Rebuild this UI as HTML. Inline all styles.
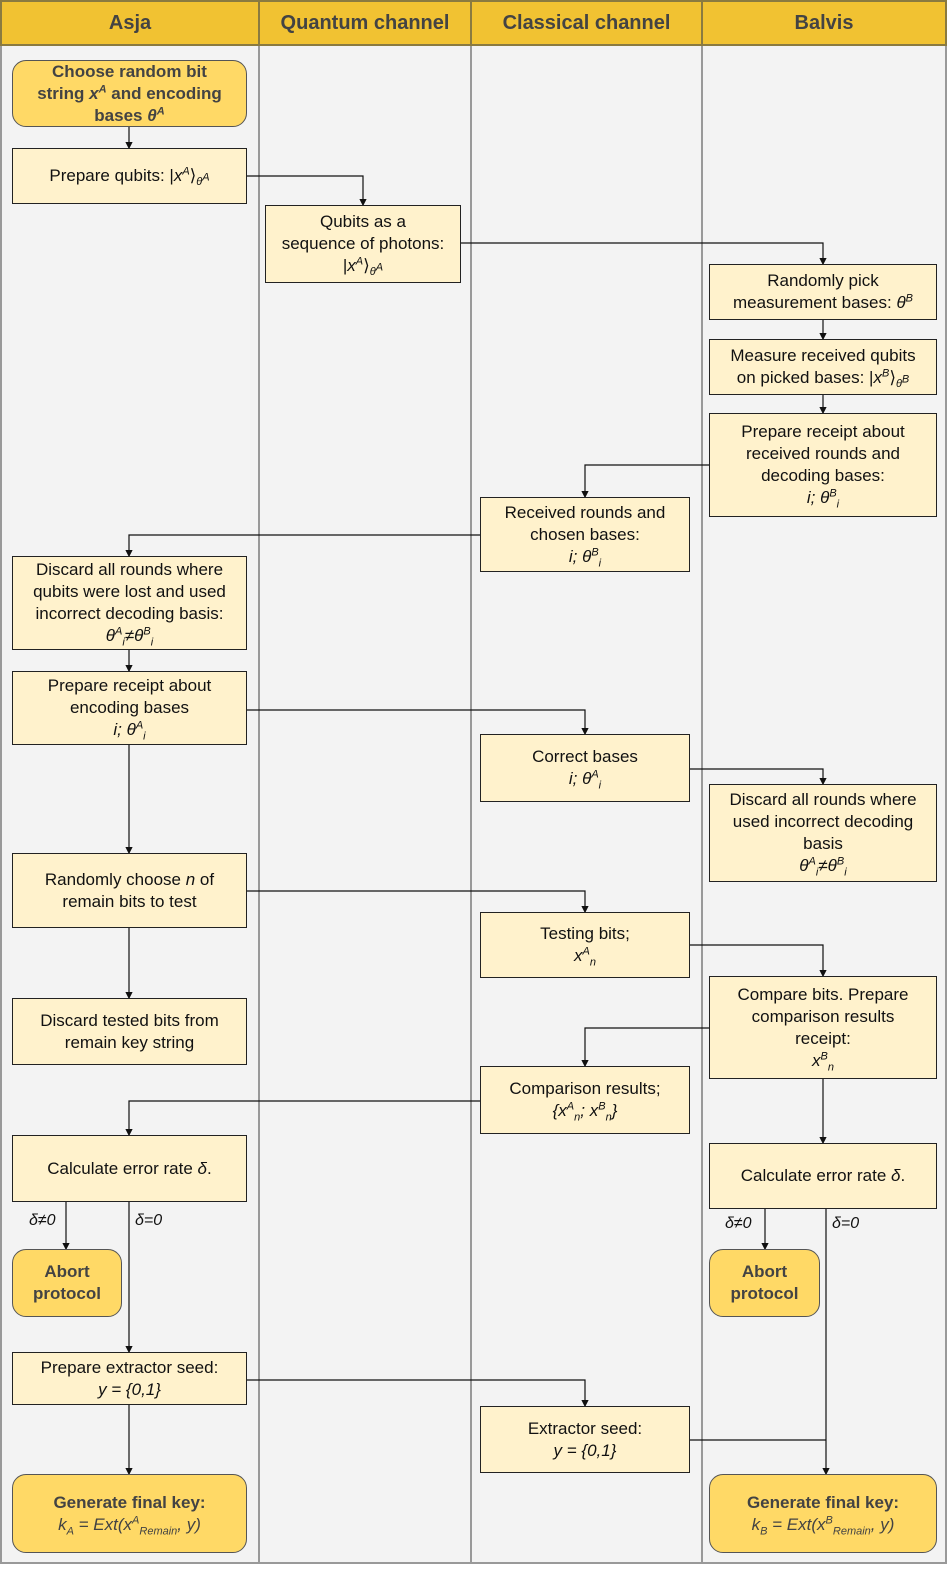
<!DOCTYPE html>
<html><head><meta charset="utf-8"><style>
body{margin:0;width:952px;height:1578px;background:#fff;font-family:"Liberation Sans",sans-serif;position:relative;overflow:hidden}
.col{position:absolute;top:0;height:1564px;background:#f3f3f3;border:2px solid #999;box-sizing:border-box}
.hd{position:absolute;top:0;height:46px;background:#f1c232;border:2px solid #8a7a40;box-sizing:border-box;font-weight:bold;font-size:20px;color:#434343;display:flex;align-items:center;justify-content:center}
.b{position:absolute;background:#fff2cc;border:1px solid #222;box-sizing:border-box;display:flex;align-items:center;justify-content:center;text-align:center;font-size:17px;line-height:22px;color:#111;padding:0 12px}
.r{background:#ffd966;border-radius:14px;font-weight:bold;color:#434343;border:1px solid #555}
i{font-style:italic}
sub,sup{font-size:11px;line-height:0}
svg{position:absolute;left:0;top:0}
.l{position:absolute;font-size:16px;font-style:italic;color:#111}
</style></head><body>
<div class="col" style="left:0;width:260px"></div>
<div class="col" style="left:258px;width:214px"></div>
<div class="col" style="left:470px;width:233px"></div>
<div class="col" style="left:701px;width:246px"></div>
<div class="hd" style="left:0;width:260px">Asja</div>
<div class="hd" style="left:258px;width:214px">Quantum channel</div>
<div class="hd" style="left:470px;width:233px">Classical channel</div>
<div class="hd" style="left:701px;width:246px">Balvis</div>

<svg width="952" height="1578"><defs><marker id="a" markerWidth="6" markerHeight="6" refX="5" refY="3" orient="auto"><path d="M0,0L6,3L0,6z" fill="#111"/></marker></defs>
<g stroke="#111" stroke-width="1.2" fill="none" marker-end="url(#a)">
<path d="M129,127V148"/><path d="M247,176H363V205"/><path d="M461,243H823V264"/>
<path d="M823,320V339"/><path d="M823,395V413"/><path d="M709,465H585V497"/>
<path d="M480,535H129V556"/><path d="M129,650V671"/><path d="M247,710H585V734"/>
<path d="M129,745V853"/><path d="M690,769H823V784"/><path d="M247,891H585V912"/>
<path d="M129,928V998"/><path d="M690,945H823V976"/><path d="M709,1028H585V1066"/>
<path d="M480,1101H129V1135"/><path d="M823,1079V1143"/><path d="M66,1202V1249"/>
<path d="M129,1202V1352"/><path d="M765,1209V1249"/><path d="M826,1209V1474"/>
<path d="M247,1380H585V1406"/><path d="M129,1405V1474"/></g>
<path d="M690,1440H826" stroke="#111" stroke-width="1.2"/></svg>

<div class="b r" style="left:12px;top:60px;width:235px;height:67px"><span>Choose random bit<br>string <i>x<sup>A</sup></i> and encoding<br>bases <i>θ<sup>A</sup></i></span></div>
<div class="b" style="left:12px;top:148px;width:235px;height:56px"><span>Prepare qubits: |<i>x<sup>A</sup></i>⟩<sub><i>θ<sup>A</sup></i></sub></span></div>
<div class="b" style="left:265px;top:205px;width:196px;height:78px"><span>Qubits as a<br>sequence of photons:<br>|<i>x<sup>A</sup></i>⟩<sub><i>θ<sup>A</sup></i></sub></span></div>
<div class="b" style="left:709px;top:264px;width:228px;height:56px;padding:0 20px"><span>Randomly pick measurement bases: <i>θ<sup>B</sup></i></span></div>
<div class="b" style="left:709px;top:339px;width:228px;height:56px"><span>Measure received qubits on picked bases: |<i>x<sup>B</sup></i>⟩<sub><i>θ<sup>B</sup></i></sub></span></div>
<div class="b" style="left:709px;top:413px;width:228px;height:104px"><span>Prepare receipt about received rounds and decoding bases:<br><i>i; θ<sup>B</sup><sub>i</sub></i></span></div>
<div class="b" style="left:480px;top:497px;width:210px;height:75px"><span>Received rounds and chosen bases:<br><i>i; θ<sup>B</sup><sub>i</sub></i></span></div>
<div class="b" style="left:12px;top:556px;width:235px;height:94px;padding:0 8px"><span>Discard all rounds where qubits were lost and used incorrect decoding basis:<br><i>θ<sup>A</sup><sub>i</sub>≠θ<sup>B</sup><sub>i</sub></i></span></div>
<div class="b" style="left:12px;top:671px;width:235px;height:74px"><span>Prepare receipt about encoding bases<br><i>i; θ<sup>A</sup><sub>i</sub></i></span></div>
<div class="b" style="left:480px;top:734px;width:210px;height:68px"><span>Correct bases<br><i>i; θ<sup>A</sup><sub>i</sub></i></span></div>
<div class="b" style="left:709px;top:784px;width:228px;height:98px"><span>Discard all rounds where used incorrect decoding basis<br><i>θ<sup>A</sup><sub>i</sub>≠θ<sup>B</sup><sub>i</sub></i></span></div>
<div class="b" style="left:12px;top:853px;width:235px;height:75px;padding:0 20px"><span>Randomly choose <i>n</i> of remain bits to test</span></div>
<div class="b" style="left:480px;top:912px;width:210px;height:66px"><span>Testing bits;<br><i>x<sup>A</sup><sub>n</sub></i></span></div>
<div class="b" style="left:12px;top:998px;width:235px;height:67px"><span>Discard tested bits from remain key string</span></div>
<div class="b" style="left:709px;top:976px;width:228px;height:103px;padding:0 18px"><span>Compare bits. Prepare comparison results receipt:<br><i>x<sup>B</sup><sub>n</sub></i></span></div>
<div class="b" style="left:480px;top:1066px;width:210px;height:68px"><span>Comparison results;<br><i>{x<sup>A</sup><sub>n</sub>; x<sup>B</sup><sub>n</sub>}</i></span></div>
<div class="b" style="left:12px;top:1135px;width:235px;height:67px"><span>Calculate error rate <i>δ</i>.</span></div>
<div class="b" style="left:709px;top:1143px;width:228px;height:66px"><span>Calculate error rate <i>δ</i>.</span></div>
<div class="b r" style="left:12px;top:1249px;width:110px;height:68px"><span>Abort protocol</span></div>
<div class="b r" style="left:709px;top:1249px;width:111px;height:68px"><span>Abort protocol</span></div>
<div class="b" style="left:12px;top:1352px;width:235px;height:53px"><span>Prepare extractor seed:<br><i>y = {0,1}</i></span></div>
<div class="b" style="left:480px;top:1406px;width:210px;height:67px"><span>Extractor seed:<br><i>y = {0,1}</i></span></div>
<div class="b r" style="left:12px;top:1474px;width:235px;height:79px"><span>Generate final key:<br><i style="font-weight:normal">k<sub>A</sub> = Ext(x<sup>A</sup><sub>Remain</sub>, y)</i></span></div>
<div class="b r" style="left:709px;top:1474px;width:228px;height:79px"><span>Generate final key:<br><i style="font-weight:normal">k<sub>B</sub> = Ext(x<sup>B</sup><sub>Remain</sub>, y)</i></span></div>
<div class="l" style="left:29px;top:1212px">δ≠0</div>
<div class="l" style="left:135px;top:1212px">δ=0</div>
<div class="l" style="left:725px;top:1215px">δ≠0</div>
<div class="l" style="left:832px;top:1215px">δ=0</div>
</body></html>
